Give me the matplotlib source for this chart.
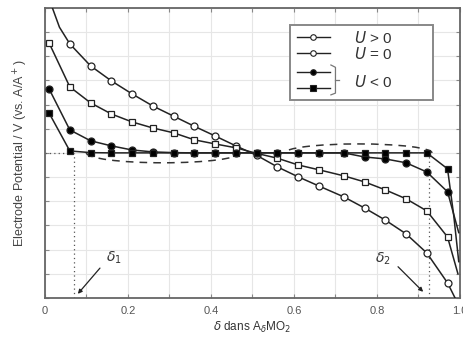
import numpy as np
import matplotlib
matplotlib.use("Agg")
import matplotlib.pyplot as plt
from matplotlib.patches import Arc, Rectangle

plt.rcParams["font.family"] = ["Liberation Sans", "DejaVu Sans"]
plt.rcParams["mathtext.fontset"] = "dejavusans"

# marker positions along delta
delta = [0.01, 0.06, 0.11, 0.16, 0.21, 0.26, 0.31, 0.36, 0.41, 0.46,
         0.51, 0.56, 0.61, 0.66, 0.72, 0.77, 0.82, 0.87, 0.92, 0.97]

# potentials (None = off the chart)
u_pos = [None, 10.51, 9.60, 8.98, 8.44, 7.94, 7.52, 7.10, 6.70, 6.29,
         5.90, 5.42, 5.01, 4.63, 4.18, 3.72, 3.22, 2.65, 1.86, 0.62]
u_zero = [10.55, 8.73, 8.07, 7.61, 7.28, 7.03, 6.83, 6.54, 6.37, 6.21,
          5.98, 5.78, 5.50, 5.30, 5.05, 4.80, 4.47, 4.10, 3.60, 2.52]
u_neg_a = [8.65, 6.95, 6.50, 6.29, 6.12, 6.04, 6.01, 6.00, 6.00, 6.00,
           6.00, 6.00, 6.00, 6.00, 6.00, 5.83, 5.75, 5.59, 5.21, 4.39]
u_neg_b = [7.65, 6.08, 6.01, 6.00, 6.00, 6.00, 6.00, 6.00, 6.00, 6.00,
           6.00, 6.00, 6.00, 6.00, 6.00, 6.00, 6.00, 6.00, 6.00, 5.34]

# line ends beyond the markers
u_pos_head = ([0.018, 0.035], [12.0, 11.2])
u_pos_tail = ([0.988], [0.0])
u_zero_tail = ([0.995], [1.0])
u_neg_a_tail = ([0.997], [2.7])
u_neg_b_tail = ([0.985, 0.997], [3.4, 1.5])

delta1, delta2 = 0.07, 0.925
plateau = 6.0

fig = plt.figure(figsize=(4.63, 3.42), dpi=100)
ax = fig.add_axes([0.097, 0.129, 0.8965, 0.848])

line_kw = dict(color="#222222", lw=1.1, zorder=3)


def draw(vals, marker, face, head=([], []), tail=([], [])):
    xs = [x for x, v in zip(delta, vals) if v is not None]
    ys = [v for v in vals if v is not None]
    ax.plot(list(head[0]) + xs + list(tail[0]),
            list(head[1]) + ys + list(tail[1]), **line_kw)
    ax.plot(xs, ys, ls="none", marker=marker, ms=5, mfc=face,
            mec="#222222", mew=0.9, zorder=4)


draw(u_pos, "o", "white", u_pos_head, u_pos_tail)
draw(u_zero, "s", "white", tail=u_zero_tail)
draw(u_neg_a, "o", "black", tail=u_neg_a_tail)
draw(u_neg_b, "s", "black", tail=u_neg_b_tail)

# dotted guides
dot_kw = dict(color="#555555", lw=0.9, ls=(0, (1, 2.5)), zorder=2)
ax.plot([0, 0.055], [plateau, plateau], **dot_kw)
ax.plot([delta1, delta1], [0, plateau], **dot_kw)
ax.plot([delta2, delta2], [0, plateau], **dot_kw)

# dashed outlines around the plateaus
ax.add_patch(Arc((0.285, 6.0), 0.37, 0.82, theta1=180, theta2=360,
                 color="#333333", lw=1.1, ls=(0, (5, 4)), zorder=2))
ax.add_patch(Arc((0.755, 6.0), 0.355, 0.74, theta1=0, theta2=180,
                 color="#333333", lw=1.1, ls=(0, (5, 4)), zorder=2))

# delta arrows
arrow_kw = dict(arrowstyle="-|>", color="#222222", lw=0.9, mutation_scale=6)
ax.annotate("", xy=(0.075, 0.08), xytext=(0.137, 1.32), arrowprops=arrow_kw)
ax.annotate("", xy=(0.916, 0.17), xytext=(0.846, 1.37), arrowprops=arrow_kw)
ax.text(0.165, 1.65, r"$\delta_1$", fontsize=10, color="#333333",
        ha="center", va="center")
ax.text(0.815, 1.6, r"$\delta_2$", fontsize=10, color="#333333",
        ha="center", va="center")

# legend drawn by hand
ax.add_patch(Rectangle((0.59, 0.683), 0.345, 0.258, transform=ax.transAxes,
                       facecolor="white", edgecolor="#888888", lw=1.4,
                       zorder=6))
leg_rows = [0.900, 0.845, 0.779, 0.724]
leg_marks = [("o", "white"), ("o", "white"), ("o", "black"), ("s", "black")]
for yy, (m, f) in zip(leg_rows, leg_marks):
    ax.plot([0.607, 0.687], [yy, yy], color="#222222", lw=1.0,
            transform=ax.transAxes, zorder=7)
    ax.plot([0.646], [yy], marker=m, ms=4, mfc=f, mec="#222222", mew=0.8,
            transform=ax.transAxes, zorder=8)
ax.plot([0.689, 0.700, 0.700, 0.689], [0.803, 0.795, 0.706, 0.700],
        color="#777777", lw=0.9, transform=ax.transAxes, zorder=7)
ax.plot([0.700, 0.708], [0.750, 0.750], color="#777777", lw=0.9,
        transform=ax.transAxes, zorder=7)
for yy, lab in zip([0.900, 0.845, 0.750], [r"$U$ > 0", r"$U$ = 0", r"$U$ < 0"]):
    ax.text(0.745, yy, lab, fontsize=11, color="#333333",
            transform=ax.transAxes, va="center_baseline", ha="left", zorder=8)

ax.set_xlim(0, 1)
ax.set_ylim(0, 12)
ax.set_xticks(np.arange(0, 1.01, 0.1))
ax.set_xticklabels(["0", "", "0.2", "", "0.4", "", "0.6", "", "0.8", "", "1.0"])
ax.set_yticks(np.arange(0, 12.1, 1))
ax.set_yticklabels([])
ax.tick_params(direction="in", length=3, width=0.8, color="#888888",
               labelsize=8, labelcolor="#555555", top=True, right=True, pad=6)
ax.grid(True, color="#e6e6e6", lw=0.8)
ax.set_axisbelow(True)
for s in ax.spines.values():
    s.set_color("#666666")
    s.set_linewidth(1.3)

ax.set_xlabel(r"$\delta$ dans A$_\delta$MO$_2$", fontsize=8.5,
              color="#333333", labelpad=3)
ax.set_ylabel("Electrode Potential / V (vs. A/A$^+$)", fontsize=9,
              color="#444444", labelpad=5)

fig.savefig("out.png", dpi=100)
